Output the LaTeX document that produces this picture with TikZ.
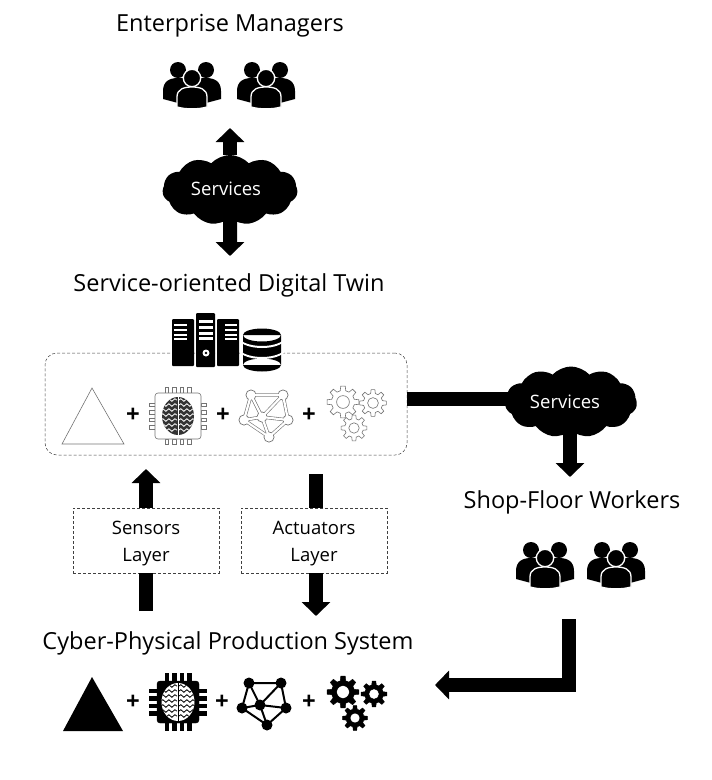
\documentclass[tikz,border=0pt]{standalone}
\usepackage{fontspec}
\setmainfont{Open Sans}
\usetikzlibrary{arrows.meta,shapes.symbols,decorations.pathmorphing}
\tikzset{
  gear/.pic = {
    \path[pic actions, even odd rule] (-14:#1*0.72)
      \foreach \a in {0,45,...,315}{
        -- (\a-14:#1*0.72) -- (\a-8:#1) -- (\a+8:#1) -- (\a+14:#1*0.72)
      } -- cycle (0,0) circle ({#1*0.4});
  },
  net/.pic = {
    \foreach \p in {(-11,-22),(21,-22),(26,3),(7,20),(-18,3)}{
      \draw[pic actions, fill=none] (0,0) -- \p;
      \path[pic actions, draw=none] \p circle (#1);
    }
    \draw[pic actions, fill=none] (-11,-22)--(21,-22)--(26,3)--(7,20)--(-18,3)--cycle;
    \path[pic actions, draw=none] (0,0) circle (#1);
  },
  chip/.pic = {
    \foreach \p in {-11.25,-3.75,3.75,11.25}{
      \path[pic actions] (\p-1.8,-#1) rectangle (\p+1.8,-28.5);
      \path[pic actions] (\p-1.8,#1) rectangle (\p+1.8,28.5);
      \path[pic actions] (-#1,\p-1.8) rectangle (-28.5,\p+1.8);
      \path[pic actions] (#1,\p-1.8) rectangle (28.5,\p+1.8);
    }
    \path[pic actions, rounded corners=3pt] (-#1,-#1) rectangle (#1,#1);
  },
  people/.pic = {
    \fill (-14,-15) circle (8) (14,-15) circle (8);
    \fill (-29,14) -- (-29,6) .. controls (-29,-4) and (-22,-7) .. (-14,-7) -- (14,-7)
      .. controls (22,-7) and (29,-4) .. (29,6) -- (29,14) -- (14,18) -- (-14,18) -- cycle;
    \filldraw[draw=white, line width=1.3pt] (0,-7) circle (8.7);
    \filldraw[draw=white, line width=1.3pt] (-15,22) -- (-15,12) .. controls (-15,4) and (-8,2) .. (0,2)
      .. controls (8,2) and (15,4) .. (15,12) -- (15,22) .. controls (6,24.5) and (-6,24.5) .. cycle;
  }
}
\newcommand{\brainicon}[4]{
  \begin{scope}[shift={(#1)}]
    \begin{scope}
      \clip (0,0) ellipse (#2 and 19);
      \fill[#3] (-20,-20) rectangle (20,20);
      \foreach \y in {-16,-11,...,16}{
        \draw[#4, line width=0.8pt, decorate, decoration={snake, amplitude=1.3pt, segment length=6pt}] (-17,\y) -- (-1,\y);
        \draw[#4, line width=0.8pt, decorate, decoration={snake, amplitude=1.3pt, segment length=6pt}] (1,\y) -- (17,\y);
      }
      \draw[#4, line width=0.9pt] (0,-19) -- (0,19);
    \end{scope}
  \end{scope}
}
\begin{document}
\begin{tikzpicture}[
  x=1pt, y=-1pt,
  every node/.style = {inner sep=0pt, align=center},
  title/.style = {font=\fontsize{23.5}{27}\selectfont},
  plus/.style = {font=\fontsize{24}{26}\selectfont\bfseries},
  cloudbox/.style = {cloud, cloud puffs=11, cloud puff arc=95, aspect=1.9, fill=black},
  cloudtext/.style = {font=\fontsize{18.5}{22}\selectfont, text=white},
  layerbox/.style = {draw=black!75, densely dashed, line width=0.5pt, minimum width=146pt, minimum height=65pt},
  layertext/.style = {font=\fontsize{18.5}{27}\selectfont},
  bigarrow/.style = {line width=14pt, -{Triangle[length=14pt, width=28pt]}},
  bigbar/.style = {line width=14pt},
  solidicon/.style = {draw=black, fill=black},
  lineicon/.style = {draw=black!55, fill=white, line width=0.6pt}
]
    \useasboundingbox (0,0) rectangle (712,780);

    \node[title] (managers) at (230,26) {Enterprise Managers};
    \pic at (192,85) {people};
    \pic at (266,85) {people};

    \coordinate (upTip) at (230,128);
    \coordinate (downTip) at (230,256);
    \node[cloudbox, minimum width=135pt, minimum height=70pt] (cloudTop) at (230,190) {};
    \node[cloudtext] (cloudTopText) at (226,189) {Services};
    \draw[bigarrow] (cloudTop.north) -- (upTip);
    \draw[bigarrow] (cloudTop.south) -- (downTip);

    \node[title] (twinTitle) at (229,285) {Service-oriented Digital Twin};

    \node[draw=black!75, densely dashed, line width=0.5pt, rounded corners=12pt, minimum width=362pt, minimum height=102pt] (twin) at (226,404) {};

    \foreach \x/\w/\t/\b in {172/22/319/366,196/19/313/367,217/22/319/366}{
        \fill[rounded corners=1pt] (\x,\t) rectangle (\x+\w,\b);
    }
    \foreach \y in {324,329,334,338}{
        \fill[white] (174,\y) rectangle (187,\y+2);
        \fill[white] (225,\y) rectangle (237,\y+2);
    }
    \foreach \y in {320,326,332,337}{
        \fill[white] (199,\y) rectangle (213,\y+2.5);
    }
    \fill[white] (206,353) circle (3.5);
    \fill (206,353) circle (1.3);
    \fill (262,335) ellipse (19 and 6.5) (243,335) rectangle (281,365) (262,365) ellipse (19 and 6.5);
    \fill[white] (240,340) .. controls (250,348) and (274,348) .. (284,340) -- (284,342) .. controls (274,350) and (250,350) .. (240,342) -- cycle;
    \fill[white] (240,351) .. controls (250,359) and (274,359) .. (284,351) -- (284,353) .. controls (274,361) and (250,361) .. (240,353) -- cycle;

    \draw[black!55, line width=0.6pt] (92,388) -- (124,444) -- (62,444) -- cycle;
    \node[plus] (plusA) at (133,415) {+};
    \pic[lineicon] at (178,416) {chip=23};
    \brainicon{178,416}{16}{black!80}{white}
    \node[plus] (plusB) at (223,415) {+};
    \pic[draw=black!55, fill=black!55, line width=3.4pt] at (262,417) {net=5.5};
    \pic[draw=white, fill=white, line width=2.2pt] at (262,417) {net=4.6};
    \node[plus] (plusC) at (309,415) {+};
    \pic[lineicon] at (343,402) {gear=16};
    \pic[lineicon] at (373,403) {gear=13.5};
    \pic[lineicon] at (354,428) {gear=13};

    \coordinate (barStart) at (407,398.5);
    \draw[bigbar] (barStart) -- (barStart -| 571,402);
    \node[cloudbox, minimum width=132pt, minimum height=71pt] (cloudRight) at (571,402) {};
    \node[cloudtext] (cloudRightText) at (565,402) {Services};
    \coordinate (workersTip) at (570,477);
    \draw[bigarrow] (cloudRight.south -| workersTip) -- (workersTip);

    \node[title] (workers) at (572,502) {Shop-Floor Workers};
    \pic at (545,565) {people};
    \pic at (616,565) {people};

    \node[layerbox] (sensors) at (146,540.5) {};
    \node[layertext] (sensorsText) at (146,544) {Sensors\\Layer};
    \node[layerbox] (actuators) at (314,540.5) {};
    \node[layertext] (actuatorsText) at (314,544) {Actuators\\Layer};
    \coordinate (sensorsTip) at (146,469);
    \coordinate (sensorsFoot) at (146,611);
    \coordinate (actuatorsTop) at (316,474);
    \coordinate (actuatorsTip) at (316,616);
    \draw[bigarrow] (sensors.north) -- (sensorsTip);
    \draw[bigbar] (sensorsFoot) -- (sensors.south);
    \draw[bigbar] (actuatorsTop) -- (actuatorsTop |- actuators.north);
    \draw[bigarrow] (actuatorsTop |- actuators.south) -- (actuatorsTip);

    \node[title] (cpps) at (228,643) {Cyber-Physical Production System};

    \fill (92,677) -- (123,731) -- (63,731) -- cycle;
    \node[plus] (plusD) at (133,702) {+};
    \pic[solidicon] at (178,702) {chip=21};
    \brainicon{178,702}{16.5}{white}{black}
    \node[plus] (plusE) at (222,702) {+};
    \pic[draw=black, fill=black, line width=2pt] at (260,705) {net=5.5};
    \node[plus] (plusF) at (309,702) {+};
    \pic[solidicon] at (343,692) {gear=16};
    \pic[solidicon] at (374,694) {gear=13};
    \pic[solidicon] at (355,718) {gear=12.5};

    \coordinate (returnStart) at (569,619);
    \coordinate (returnTip) at (435,685);
    \draw[bigarrow] (returnStart) |- (returnTip);
\end{tikzpicture}
\end{document}
